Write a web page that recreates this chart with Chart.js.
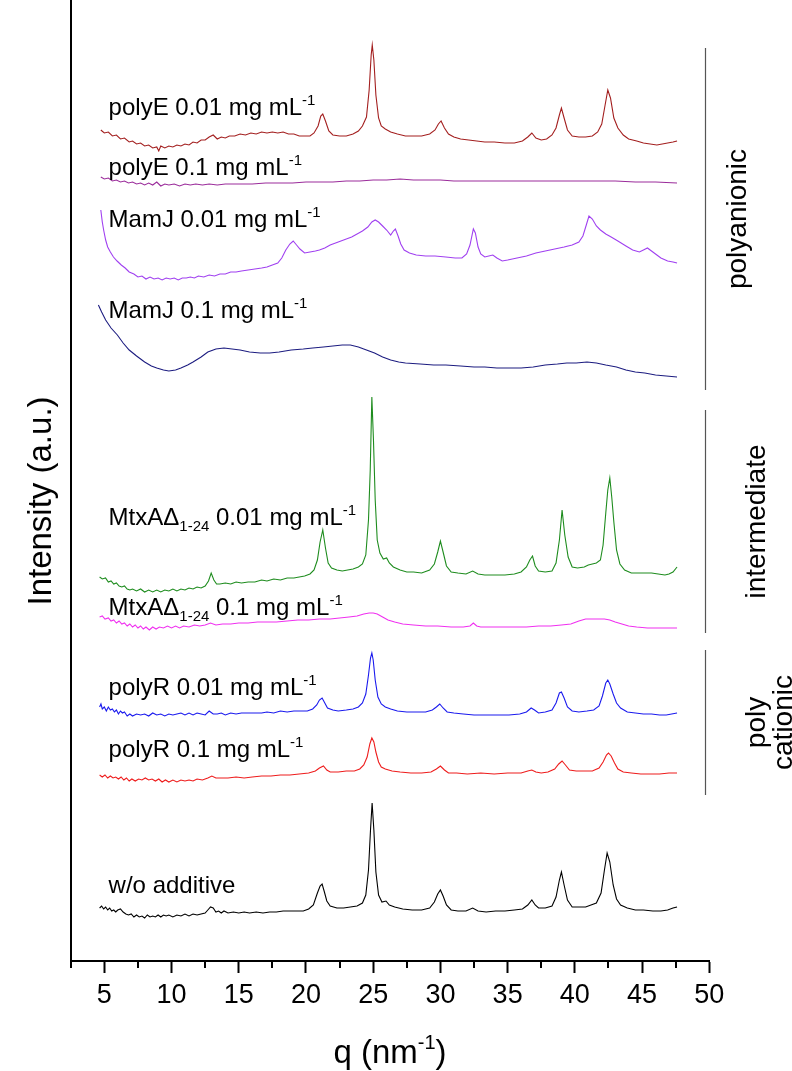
<!DOCTYPE html>
<html><head><meta charset="utf-8">
<script src="https://cdn.jsdelivr.net/npm/chart.js@4.4.1/dist/chart.umd.min.js"></script>
<style>html,body{margin:0;padding:0;background:#fff;}#wrap{width:792px;height:1071px;}</style>
</head><body><div id="wrap"><canvas id="c" width="792" height="1071"></canvas></div>
<script>
// ---- data: [q (nm^-1), stacked intensity (a.u.)] ----
const polyE001 = [[4.74,831],[5.0,828],[5.3,829],[5.6,825],[5.9,826],[6.2,822],[6.5,823],[6.85,819],[7.1,820],[7.4,817],[7.7,818],[8.0,815],[8.3,816],[8.6,813],[8.9,814],[9.05,810],[9.2,815],[9.5,813],[9.8,815],[10.1,814],[10.4,816],[10.7,815],[11.0,817],[11.3,816],[11.6,819],[11.9,818],[12.2,821],[12.5,821],[12.8,824],[13.1,826],[13.4,822],[13.7,824],[14.0,823],[14.3,825],[14.7,825],[15.1,827],[15.5,826],[15.9,828],[16.3,827],[16.7,829],[17.1,828],[17.5,829],[17.9,828],[18.3,829],[18.7,827],[19.1,827],[19.5,825],[19.9,825],[20.3,825],[20.6,828],[20.9,835],[21.1,845],[21.25,847],[21.45,840],[21.7,830],[22.0,826],[22.5,825],[23.0,825],[23.5,827],[23.9,830],[24.2,835],[24.5,844],[24.7,871],[24.85,906],[24.93,916],[25.05,901],[25.2,866],[25.4,843],[25.6,835],[25.9,832],[26.3,829],[26.8,827],[27.4,825],[28.0,825],[28.6,825],[29.2,827],[29.6,831],[29.85,837],[30.05,840],[30.3,833],[30.6,827],[31.0,824],[31.5,822],[32.1,821],[32.7,820],[33.3,819],[34.0,819],[34.8,818],[35.5,818],[36.1,820],[36.5,824],[36.8,828],[37.1,823],[37.5,821],[37.9,822],[38.3,826],[38.6,833],[38.85,846],[39.0,853],[39.2,843],[39.45,831],[39.8,825],[40.3,824],[40.8,824],[41.3,825],[41.7,829],[42.0,837],[42.25,856],[42.45,871],[42.65,863],[42.9,843],[43.2,833],[43.6,826],[44.0,822],[44.6,820],[45.1,818],[45.6,817],[46.1,816],[46.5,817],[46.9,818],[47.3,819],[47.6,820]];
const polyE01 = [[4.74,784],[5.0,782],[5.3,783],[5.6,780],[5.9,781],[6.2,779],[6.5,780],[6.8,778],[7.1,779],[7.4,777],[7.7,778],[8.0,776],[8.3,778],[8.6,776],[8.9,779],[9.2,775],[9.5,777],[9.8,776],[10.2,777],[10.6,775],[11.0,777],[11.4,776],[11.8,777],[12.3,776],[12.8,777],[13.4,776],[14.0,777],[15.0,777],[16.0,777],[17.0,778],[18.0,778],[19.0,778],[20.0,779],[21.0,779],[22.0,779],[23.0,780],[24.0,780],[25.0,781],[26.0,781],[27.0,782],[28.0,781],[29.0,781],[30.0,781],[31.0,780],[32.5,780],[34.0,780],[35.5,780],[37.0,780],[38.5,780],[40.0,780],[41.5,780],[43.0,780],[44.5,779],[46.0,779],[47.6,778]];
const mamJ001 = [[4.74,751],[4.85,739],[4.95,731],[5.1,721],[5.25,714],[5.45,709],[5.68,704],[5.95,700],[6.26,696],[6.55,693],[6.85,689],[7.2,687],[7.5,684],[7.8,685],[8.1,682],[8.4,684],[8.7,682],[9.0,683],[9.3,681],[9.6,683],[9.9,682],[10.2,683],[10.5,681],[10.8,683],[11.1,683],[11.4,684],[11.7,683],[12.0,685],[12.4,684],[12.8,686],[13.2,685],[13.6,687],[14.0,687],[14.4,689],[14.8,689],[15.2,690],[15.7,691],[16.2,692],[16.7,693],[17.1,694],[17.5,696],[17.9,698],[18.2,703],[18.5,711],[18.8,717],[19.05,720],[19.3,716],[19.55,712],[19.9,708],[20.3,709],[20.7,710],[21.0,711],[21.4,713],[21.8,716],[22.2,718],[22.6,720],[23.0,722],[23.4,724],[23.8,727],[24.2,730],[24.6,734],[24.9,739],[25.15,741],[25.4,739],[25.7,735],[26.0,731],[26.3,726],[26.5,730],[26.65,732],[26.85,725],[27.05,717],[27.3,711],[27.7,708],[28.2,706],[28.9,705],[29.6,705],[30.4,704],[31.1,703],[31.6,703],[31.95,707],[32.2,716],[32.45,732],[32.6,728],[32.8,714],[33.0,707],[33.3,704],[33.6,705],[33.9,706],[34.2,703],[34.6,700],[35.0,701],[35.7,703],[36.4,705],[37.1,708],[37.8,710],[38.5,712],[39.2,714],[39.8,716],[40.3,719],[40.6,725],[40.85,736],[41.05,745],[41.3,742],[41.6,735],[41.9,731],[42.3,727],[42.7,724],[43.2,720],[43.8,715],[44.3,711],[44.8,709],[45.1,711],[45.4,713],[45.7,710],[46.0,707],[46.4,703],[46.9,700],[47.3,699],[47.6,698]];
const mamJ01 = [[4.56,656],[4.8,649],[5.1,641],[5.5,633],[5.97,626],[6.4,618],[6.85,611],[7.4,605],[8.0,599],[8.5,595],[8.9,593],[9.4,591],[9.8,590],[10.3,591],[10.7,593],[11.2,596],[11.6,599],[12.2,604],[12.7,609],[13.3,612],[13.9,613],[14.5,612],[15.1,611],[15.8,609],[16.6,608],[17.3,608],[18.0,609],[18.9,611],[19.8,612],[20.5,613],[21.3,614],[22.0,615],[22.7,616],[23.3,616],[23.9,614],[24.5,611],[25.1,608],[25.7,604],[26.3,601],[26.9,599],[27.4,598],[28.5,597],[29.5,596],[30.4,596],[31.5,595],[32.5,594],[33.3,594],[34.2,593],[35.1,593],[36.0,593],[36.9,594],[37.8,596],[38.7,597],[39.4,598],[40.1,598],[40.9,599],[41.6,598],[42.3,596],[43.1,594],[43.8,591],[44.5,589],[45.2,588],[46.0,586],[46.8,585],[47.6,584]];
const mtxA001 = [[4.65,384],[4.85,382],[5.09,383],[5.3,379],[5.5,380],[5.7,377],[5.9,378],[6.1,375],[6.3,374],[6.5,375],[6.7,372],[6.9,371],[7.1,372],[7.4,370],[7.7,372],[8.0,369],[8.3,371],[8.6,369],[8.9,371],[9.2,369],[9.5,371],[9.8,370],[10.1,372],[10.4,370],[10.7,372],[11.0,371],[11.3,373],[11.6,372],[11.9,374],[12.2,373],[12.5,375],[12.75,380],[12.95,388],[13.15,381],[13.35,377],[13.6,377],[14.0,378],[14.4,377],[14.8,379],[15.2,378],[15.7,379],[16.2,379],[16.7,381],[17.1,380],[17.6,382],[18.1,381],[18.6,383],[19.1,383],[19.5,384],[19.9,385],[20.3,387],[20.6,391],[20.85,401],[21.05,419],[21.25,431],[21.45,413],[21.65,398],[21.9,393],[22.3,391],[22.7,390],[23.1,391],[23.5,392],[23.9,394],[24.2,397],[24.45,406],[24.65,441],[24.78,491],[24.9,564],[25.02,521],[25.15,461],[25.3,421],[25.5,408],[25.75,402],[26.0,403],[26.2,398],[26.5,394],[27.0,391],[27.5,389],[28.0,389],[28.6,388],[29.2,391],[29.55,397],[29.8,409],[30.0,420],[30.2,409],[30.45,395],[30.8,389],[31.3,388],[31.9,387],[32.4,390],[32.8,387],[33.3,386],[34.0,386],[34.8,386],[35.5,387],[36.0,389],[36.4,394],[36.65,401],[36.85,405],[37.05,395],[37.3,390],[37.8,389],[38.3,390],[38.6,398],[38.85,421],[39.05,451],[39.25,426],[39.5,404],[39.8,394],[40.2,393],[40.7,394],[41.0,396],[41.3,397],[41.6,398],[41.9,401],[42.1,416],[42.3,448],[42.45,471],[42.6,483],[42.75,463],[42.9,439],[43.1,411],[43.35,397],[43.7,391],[44.2,388],[44.7,388],[45.2,388],[45.7,388],[46.2,387],[46.7,386],[47.0,387],[47.3,389],[47.6,394]];
const mtxA01 = [[4.65,344],[4.85,345],[5.05,342],[5.3,343],[5.5,340],[5.7,341],[5.9,338],[6.1,340],[6.3,337],[6.5,338],[6.7,335],[6.9,337],[7.1,334],[7.3,336],[7.5,333],[7.7,335],[7.9,332],[8.1,334],[8.35,331],[8.6,334],[8.85,332],[9.1,334],[9.4,333],[9.7,335],[10.0,333],[10.3,335],[10.6,333],[10.9,335],[11.3,334],[11.7,336],[12.1,335],[12.5,336],[12.9,338],[13.3,336],[13.8,337],[14.4,337],[15.0,338],[15.7,338],[16.4,339],[17.1,339],[17.8,339],[18.6,340],[19.4,341],[20.2,341],[21.0,342],[21.8,342],[22.5,343],[23.2,344],[23.8,345],[24.3,347],[24.7,348],[25.0,348],[25.3,347],[25.7,344],[26.1,341],[26.6,339],[27.2,337],[28.0,336],[28.9,335],[29.8,335],[30.8,334],[31.7,334],[32.2,335],[32.45,338],[32.7,335],[33.0,334],[33.8,334],[34.7,334],[35.6,334],[36.4,334],[37.3,335],[38.2,335],[39.0,336],[39.7,337],[40.3,340],[40.8,342],[41.3,342],[41.8,342],[42.2,342],[42.6,341],[43.0,339],[43.5,337],[44.0,335],[44.6,334],[45.4,333],[46.2,333],[47.0,333],[47.6,333]];
const polyR001 = [[4.65,254],[4.75,257],[4.85,252],[5.0,254],[5.15,250],[5.3,254],[5.45,251],[5.6,252],[5.75,249],[5.9,251],[6.05,247],[6.2,250],[6.35,248],[6.5,249],[6.7,245],[6.9,247],[7.1,245],[7.4,247],[7.7,246],[8.0,247],[8.3,245],[8.6,248],[8.9,246],[9.2,247],[9.5,245],[9.8,247],[10.1,246],[10.4,247],[10.7,248],[11.0,246],[11.3,248],[11.6,246],[11.9,248],[12.2,247],[12.5,246],[12.8,250],[13.1,247],[13.4,247],[13.7,248],[14.0,246],[14.4,248],[14.8,247],[15.2,248],[15.7,248],[16.2,248],[16.7,248],[17.1,249],[17.6,248],[18.1,250],[18.6,249],[19.1,250],[19.6,250],[20.1,250],[20.5,252],[20.8,256],[21.0,261],[21.2,263],[21.4,258],[21.6,253],[22.0,251],[22.4,250],[23.0,251],[23.5,252],[23.9,254],[24.2,258],[24.45,267],[24.65,286],[24.8,303],[24.9,308],[25.0,301],[25.15,281],[25.35,264],[25.6,257],[25.9,254],[26.3,252],[26.8,250],[27.5,249],[28.3,249],[28.9,249],[29.4,251],[29.7,254],[29.95,257],[30.2,253],[30.5,249],[31.0,248],[31.7,247],[32.5,246],[33.3,246],[34.2,246],[35.1,246],[35.9,247],[36.4,249],[36.75,253],[37.0,251],[37.3,248],[37.8,249],[38.3,251],[38.6,258],[38.85,268],[39.0,269],[39.2,263],[39.45,254],[39.8,250],[40.3,249],[40.9,250],[41.4,251],[41.8,255],[42.05,265],[42.3,278],[42.45,281],[42.6,277],[42.85,267],[43.1,258],[43.4,253],[43.9,249],[44.5,248],[45.1,247],[45.7,247],[46.3,246],[46.8,246],[47.2,247],[47.6,248]];
const polyR01 = [[4.65,186],[4.85,184],[5.05,186],[5.25,183],[5.45,185],[5.65,183],[5.85,184],[6.05,182],[6.25,184],[6.45,181],[6.65,183],[6.85,180],[7.05,182],[7.3,180],[7.55,182],[7.8,181],[8.05,183],[8.3,181],[8.55,182],[8.8,180],[9.05,182],[9.3,179],[9.55,181],[9.8,179],[10.1,181],[10.4,179],[10.7,181],[11.0,180],[11.3,181],[11.6,180],[11.9,182],[12.3,181],[12.7,183],[13.0,185],[13.3,183],[13.7,183],[14.2,183],[14.8,184],[15.4,183],[16.0,184],[16.7,185],[17.4,185],[18.1,186],[18.8,186],[19.5,187],[20.2,188],[20.7,190],[21.0,193],[21.3,195],[21.55,191],[21.8,189],[22.4,189],[23.0,190],[23.6,190],[24.0,192],[24.3,196],[24.55,204],[24.75,217],[24.9,223],[25.05,219],[25.2,209],[25.4,199],[25.6,194],[25.9,192],[26.4,190],[27.0,189],[27.8,188],[28.6,188],[29.3,189],[29.7,192],[30.0,195],[30.3,191],[30.6,188],[31.2,188],[32.0,187],[33.0,188],[34.0,187],[35.0,188],[36.0,188],[36.5,190],[36.8,191],[37.1,189],[37.5,188],[38.0,189],[38.5,192],[38.8,197],[39.05,200],[39.3,196],[39.6,191],[40.1,190],[40.7,190],[41.3,190],[41.8,193],[42.1,199],[42.35,206],[42.5,208],[42.7,205],[42.95,198],[43.2,192],[43.6,189],[44.2,188],[44.9,187],[45.6,187],[46.3,187],[47.0,188],[47.6,188]];
const woAdditive = [[4.65,53],[4.8,55],[4.95,52],[5.1,54],[5.25,51],[5.4,53],[5.55,50],[5.7,51],[5.85,49],[6.0,51],[6.2,52],[6.4,49],[6.6,47],[6.8,46],[7.0,47],[7.2,44],[7.4,46],[7.6,44],[7.8,45],[8.0,43],[8.2,46],[8.4,44],[8.6,45],[8.8,44],[9.0,46],[9.2,44],[9.4,46],[9.6,45],[9.8,46],[10.1,44],[10.4,46],[10.7,45],[11.0,47],[11.3,45],[11.6,47],[11.9,46],[12.2,47],[12.5,48],[12.7,51],[12.9,54],[13.1,53],[13.3,49],[13.5,50],[13.7,48],[13.9,50],[14.2,48],[14.6,49],[15.0,48],[15.4,49],[15.8,48],[16.3,49],[16.8,48],[17.3,49],[17.8,49],[18.3,50],[18.8,50],[19.3,50],[19.8,50],[20.2,52],[20.55,56],[20.85,68],[21.05,75],[21.2,77],[21.35,70],[21.55,60],[21.8,55],[22.3,53],[22.8,53],[23.3,54],[23.8,55],[24.2,58],[24.45,66],[24.65,91],[24.8,131],[24.92,158],[25.05,131],[25.2,89],[25.4,66],[25.65,59],[25.95,60],[26.2,56],[26.6,54],[27.2,52],[27.9,51],[28.6,51],[29.2,53],[29.55,59],[29.8,67],[30.0,71],[30.2,65],[30.45,56],[30.8,51],[31.3,50],[31.9,50],[32.4,53],[32.8,50],[33.4,49],[34.1,50],[34.8,50],[35.5,51],[36.1,52],[36.5,56],[36.8,61],[37.05,56],[37.3,53],[37.8,53],[38.3,55],[38.6,64],[38.85,81],[39.0,89],[39.2,76],[39.45,61],[39.8,54],[40.3,54],[40.8,54],[41.2,56],[41.6,58],[41.95,68],[42.2,91],[42.4,108],[42.6,99],[42.85,76],[43.1,62],[43.4,56],[43.9,53],[44.5,51],[45.1,51],[45.8,50],[46.4,50],[46.9,51],[47.3,53],[47.6,54]];

const seriesNames = ['polyE 0.01 mg mL-1','polyE 0.1 mg mL-1','MamJ 0.01 mg mL-1','MamJ 0.1 mg mL-1','MtxA\u03941-24 0.01 mg mL-1','MtxA\u03941-24 0.1 mg mL-1','polyR 0.01 mg mL-1','polyR 0.1 mg mL-1','w/o additive'];
const seriesData = [polyE001, polyE01, mamJ001, mamJ01, mtxA001, mtxA01, polyR001, polyR01, woAdditive];
const seriesColors = ['#a31f1f','#9b2d9b','#a040f0','#1c1c80','#1e8c1e','#f030f0','#1a1aee','#ee1c1c','#000000'];

const qMajorTicks = [5,10,15,20,25,30,35,40,45,50];
const qMinorTicks = [2.5,7.5,12.5,17.5,22.5,27.5,32.5,37.5,42.5,47.5];

// curve labels anchored in data coordinates (q, intensity); parts: [text, role]
const curveLabels = [
  {q:5.32, i:846, parts:[['polyE 0.01 mg mL','n'],['-1','sup']]},
  {q:5.32, i:786, parts:[['polyE 0.1 mg mL','n'],['-1','sup']]},
  {q:5.32, i:734, parts:[['MamJ 0.01 mg mL','n'],['-1','sup']]},
  {q:5.32, i:643, parts:[['MamJ 0.1 mg mL','n'],['-1','sup']]},
  {q:5.32, i:436, parts:[['MtxA\u0394','n'],['1-24','sub'],[' 0.01 mg mL','n'],['-1','sup']]},
  {q:5.32, i:346, parts:[['MtxA\u0394','n'],['1-24','sub'],[' 0.1 mg mL','n'],['-1','sup']]},
  {q:5.32, i:266, parts:[['polyR 0.01 mg mL','n'],['-1','sup']]},
  {q:5.32, i:204, parts:[['polyR 0.1 mg mL','n'],['-1','sup']]},
  {q:5.32, i:68,  parts:[['w/o additive','n']]}
];
// group brackets: intensity span, text lines
const groups = [
  {lines:['polyanionic'], iTop:913, iBot:571, dx:[29]},
  {lines:['intermediate'], iTop:551, iBot:328, dx:[48]},
  {lines:['poly','cationic'], iTop:311, iBot:166, dx:[48,75]}
];

const FONT = "'Liberation Sans', Arial, Helvetica, sans-serif";
const SIZES = {n:24, sup:15, sub:15};
const SHIFT = {n:0, sup:-10, sub:6};

function drawRich(ctx, x, y, parts, align){
  let w = 0;
  parts.forEach(p => { ctx.font = SIZES[p[1]] + 'px ' + FONT; w += ctx.measureText(p[0]).width; });
  let cx = align === 'center' ? x - w/2 : x;
  ctx.textAlign = 'left'; ctx.textBaseline = 'alphabetic';
  parts.forEach(p => { ctx.font = SIZES[p[1]] + 'px ' + FONT; ctx.fillText(p[0], cx, y + SHIFT[p[1]]); cx += ctx.measureText(p[0]).width; });
}

const annot = {
  id: 'annot',
  afterDraw(chart){
    const {ctx, chartArea: ca, scales: {x, y}} = chart;
    ctx.save();
    ctx.fillStyle = '#000'; ctx.strokeStyle = '#000';
    ctx.lineWidth = 2;
    qMinorTicks.forEach(v => {
      const px = Math.round(x.getPixelForValue(v));
      ctx.beginPath(); ctx.moveTo(px, ca.bottom); ctx.lineTo(px, ca.bottom + 7); ctx.stroke();
    });
    curveLabels.forEach(l => drawRich(ctx, x.getPixelForValue(l.q), y.getPixelForValue(l.i), l.parts, 'left'));
    ctx.save();
    const xt = [['q (nm',0,33],['-1',-14,20],[')',0,33]];
    let w = 0; xt.forEach(p => { ctx.font = p[2]+'px '+FONT; w += ctx.measureText(p[0]).width; });
    let cx = (ca.left + ca.right)/2 - w/2;
    ctx.textAlign='left'; ctx.textBaseline='alphabetic';
    xt.forEach(p => { ctx.font = p[2]+'px '+FONT; ctx.fillText(p[0], cx, 1063 + p[1]); cx += ctx.measureText(p[0]).width; });
    ctx.restore();
    ctx.save();
    ctx.translate(42, 501); ctx.rotate(-Math.PI/2);
    ctx.font = '33px ' + FONT; ctx.textAlign = 'center'; ctx.textBaseline = 'middle';
    ctx.fillText('Intensity (a.u.)', 0, 0);
    ctx.restore();
    groups.forEach(g => {
      const lx = Math.round(ca.right - 4) + 0.5;
      const yt = y.getPixelForValue(g.iTop), yb = y.getPixelForValue(g.iBot);
      ctx.strokeStyle = '#555'; ctx.lineWidth = 1.2;
      ctx.beginPath(); ctx.moveTo(lx, yt); ctx.lineTo(lx, yb); ctx.stroke();
      const cy = (yt + yb)/2;
      g.lines.forEach((t, k) => {
        ctx.save();
        ctx.translate(ca.right + g.dx[k], cy); ctx.rotate(-Math.PI/2);
        ctx.font = '28px ' + FONT; ctx.textAlign = 'center'; ctx.textBaseline = 'middle';
        ctx.fillStyle = '#000';
        ctx.fillText(t, 0, 0);
        ctx.restore();
      });
    });
    ctx.restore();
  }
};

const datasets = seriesData.map((d, k) => ({
  label: seriesNames[k],
  data: d.map(p => ({x: p[0], y: p[1]})),
  borderColor: seriesColors[k],
  borderWidth: 1.1,
  pointRadius: 0,
  fill: false,
  tension: 0
}));

new Chart(document.getElementById('c'), {
  type: 'line',
  data: { datasets },
  options: {
    responsive: false,
    animation: false,
    devicePixelRatio: 1,
    layout: { padding: { left: 0, top: 0, right: 82.7, bottom: 0 } },
    plugins: { legend: { display: false }, tooltip: { enabled: false } },
    scales: {
      x: {
        type: 'linear', min: 2.5, max: 50,
        afterBuildTicks: s => { s.ticks = qMajorTicks.map(v => ({value: v})); },
        afterFit: s => { s.height = 110; },
        ticks: { color: '#000', padding: 6, font: { family: FONT, size: 27, lineHeight: 1.2 }, maxRotation: 0, autoSkip: false },
        grid: { drawOnChartArea: false, drawTicks: true, tickLength: 12, tickWidth: 2, tickColor: '#000' },
        border: { display: true, color: '#000', width: 2 }
      },
      y: {
        type: 'linear', min: 0, max: 961,
        afterFit: s => { s.width = 70.7; },
        ticks: { display: false },
        grid: { display: false, drawTicks: false },
        border: { display: true, color: '#000', width: 2 }
      }
    }
  },
  plugins: [annot]
});
</script>
</body></html>
